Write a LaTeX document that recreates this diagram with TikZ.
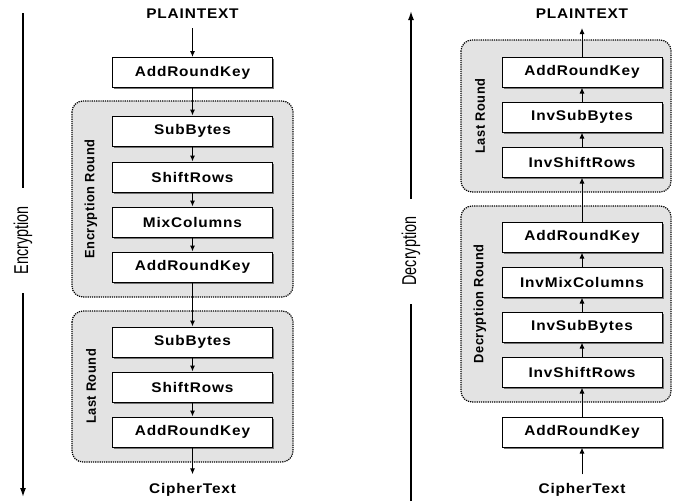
\documentclass[tikz,border=0pt]{standalone}
\usepackage{fontspec}
\setmainfont{Liberation Sans}
\newfontfamily\stagefont[LetterSpace=6,FakeStretch=1.1]{Liberation Sans}
\newfontfamily\roundfont[LetterSpace=4,FakeStretch=0.95]{Liberation Sans}
\newfontfamily\axisfont[FakeStretch=0.72]{Liberation Sans}
\usetikzlibrary{shadows,arrows.meta}

\begin{document}
\begin{tikzpicture}[x=1pt, y=1pt,
                        > = {Latex[length=6pt,width=5pt]},
             stage/.style = {rectangle,
                            draw=black,
                            line width=1pt,
                            fill=white,
                            minimum width=160pt,
                            minimum height=30pt,
                            inner sep=0pt,
                            font=\stagefont\bfseries\fontsize{14}{16}\selectfont,
                            drop shadow={shadow xshift=1.6pt, shadow yshift=-1.6pt,
                                         fill=black!55, opacity=1}},
           endtext/.style = {inner sep=9pt,
                            font=\stagefont\bfseries\fontsize{14}{16}\selectfont},
          roundbox/.style = {draw=black, line width=1.2pt, densely dotted,
                            fill=gray!22, rounded corners=11pt},
        roundlabel/.style = {rotate=90,
                            font=\roundfont\bfseries\fontsize{13.5}{15}\selectfont},
         axislabel/.style = {rotate=90, fill=white, inner xsep=18pt,
                            font=\axisfont\fontsize{20}{22}\selectfont},
              flow/.style = {->, line width=1pt},
              axis/.style = {-{Latex[length=9pt,width=6pt]}, line width=1.5pt},
            ]
            \useasboundingbox (0,0) rectangle (674,-501);

            % encryption side
            \draw[roundbox] (72,-101) rectangle (293,-297);
            \draw[roundbox] (72,-311) rectangle (293,-462);
            \node[roundlabel] (encround) at (91,-199) {Encryption Round};
            \node[roundlabel] (enclast) at (91,-386.5) {Last Round};

            \node[endtext] (pa) at (192.5,-14) {PLAINTEXT};
            \node[stage] (ka) at (192.5,-72.5) {AddRoundKey};
            \node[stage] (sa) at (192.5,-131) {SubBytes};
            \node[stage] (ra) at (192.5,-177) {ShiftRows};
            \node[stage] (ma) at (192.5,-222) {MixColumns};
            \node[stage] (kb) at (192.5,-267) {AddRoundKey};
            \node[stage] (sb) at (192.5,-342) {SubBytes};
            \node[stage] (rb) at (192.5,-387) {ShiftRows};
            \node[stage] (kc) at (192.5,-432) {AddRoundKey};
            \node[endtext] (ca) at (192.5,-490) {CipherText};

            \foreach \a/\b in {pa/ka,ka/sa,sa/ra,ra/ma,ma/kb,kb/sb,sb/rb,rb/kc,kc/ca}{%
                \draw[flow] (\a) -- (\b);
            }

            \coordinate (etop) at (23,-13);
            \coordinate (ebot) at (23,-497);
            \draw[axis] (etop) -- node[axislabel, pos=0.47] (enc) {Encryption} (ebot);

            % decryption side
            \draw[roundbox] (461,-40) rectangle (671,-192);
            \draw[roundbox] (461,-206) rectangle (671,-402);
            \node[roundlabel] (declast) at (480,-116) {Last Round};
            \node[roundlabel] (decround) at (480,-304) {Decryption Round};

            \node[endtext] (pb) at (582,-14) {PLAINTEXT};
            \node[stage] (kd) at (582,-72) {AddRoundKey};
            \node[stage] (isa) at (582,-117) {InvSubBytes};
            \node[stage] (ira) at (582,-162) {InvShiftRows};
            \node[stage] (ke) at (582,-237) {AddRoundKey};
            \node[stage] (ima) at (582,-282) {InvMixColumns};
            \node[stage] (isb) at (582,-327) {InvSubBytes};
            \node[stage] (irb) at (582,-372) {InvShiftRows};
            \node[stage] (kf) at (582,-432) {AddRoundKey};
            \node[endtext] (cb) at (582,-490) {CipherText};

            \foreach \a/\b in {cb/kf,kf/irb,irb/isb,isb/ima,ima/ke,ke/ira,ira/isa,isa/kd,kd/pb}{%
                \draw[flow] (\a) -- (\b);
            }

            \coordinate (dtop) at (411,-11);
            \coordinate (dbot) at (411,-501);
            \draw[axis] (dbot) -- node[axislabel, pos=0.51] (dec) {Decryption} (dtop);
        \end{tikzpicture}
\end{document}
